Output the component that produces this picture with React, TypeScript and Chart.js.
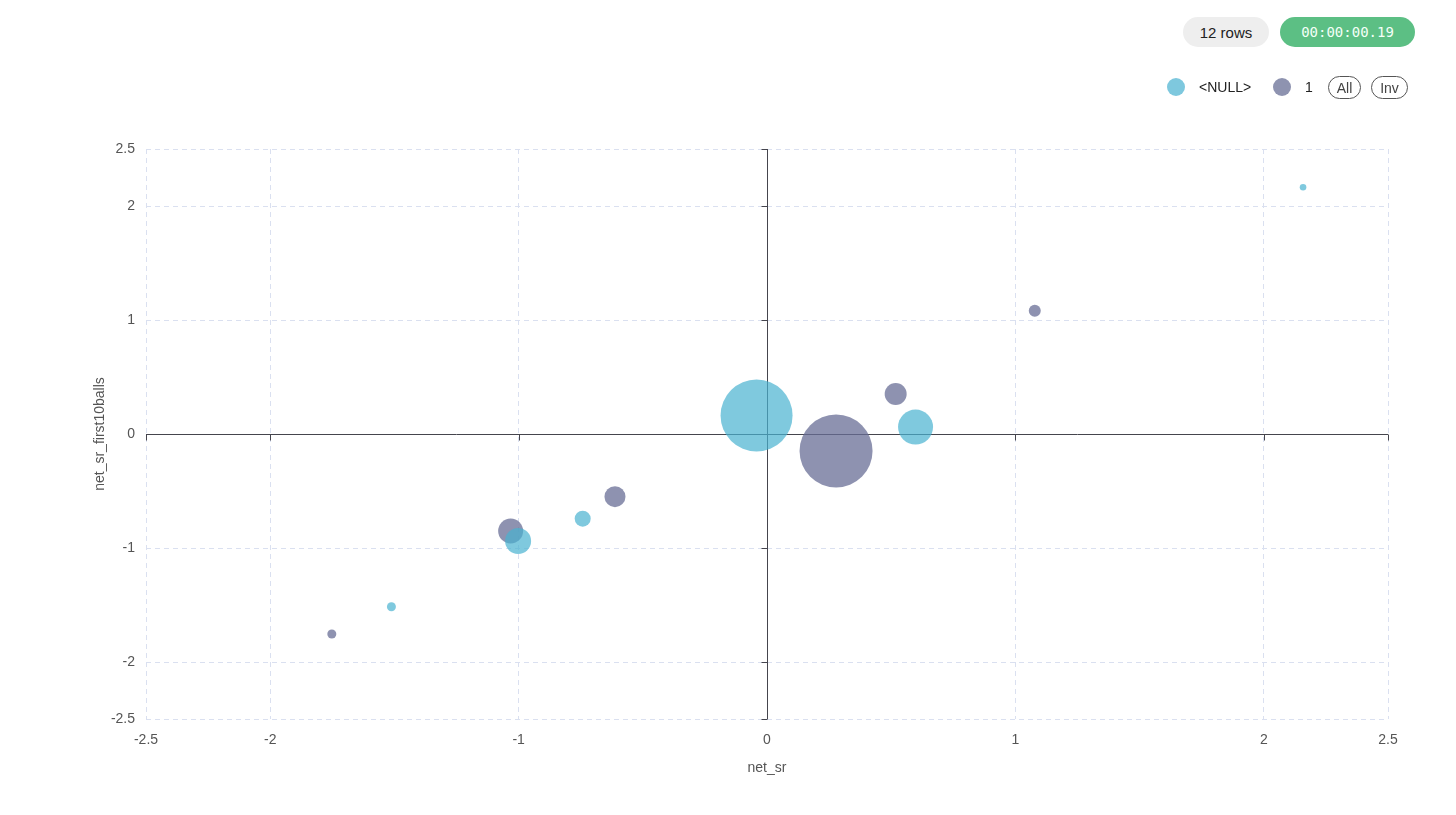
import React, { useEffect, useRef } from "react";
import { Chart, registerables } from "chart.js";

Chart.register(...registerables);

// ---- data ----
const seriesNames = ["<NULL>", "1"];
const nullX = [-0.042, 0.598, -1.002, -0.742, -1.512, 2.158];
const nullY = [0.162, 0.061, -0.939, -0.743, -1.515, 2.164];
const nullR = [36, 17.5, 13, 8, 4.5, 3.3];
const oneX = [0.278, 0.518, -1.032, -0.612, -1.752, 1.078];
const oneY = [-0.149, 0.351, -0.851, -0.55, -1.754, 1.082];
const oneR = [36.5, 11, 12.5, 10.5, 4.5, 6];
const xTicks = [-2.5, -2, -1, 0, 1, 2, 2.5];
const yTicks = [-2.5, -2, -1, 0, 1, 2, 2.5];
const xTitle = "net_sr";
const yTitle = "net_sr_first10balls";
const rowCount = "12 rows";
const elapsed = "00:00:00.19";

const CYAN = "rgba(72,178,208,0.7)";
const PURPLE = "rgba(104,110,150,0.75)";
const GRID = "rgba(218,224,240,1)";
const FONT = "'Liberation Sans', Arial, sans-serif";

const zeroAxes = {
  id: "zeroAxes",
  beforeDatasetsDraw(chart: any) {
    const { ctx, chartArea, scales } = chart;
    const xs = scales.x;
    const ys = scales.y;
    const x0 = Math.round(xs.getPixelForValue(0)) + 0.5;
    const y0 = Math.round(ys.getPixelForValue(0)) + 0.5;
    ctx.save();
    ctx.strokeStyle = "#45454d";
    ctx.lineWidth = 1;
    ctx.beginPath();
    ctx.moveTo(chartArea.left, y0);
    ctx.lineTo(chartArea.right, y0);
    ctx.moveTo(x0, chartArea.top);
    ctx.lineTo(x0, chartArea.bottom);
    xTicks.forEach((v) => {
      if (v === 0) return;
      const px = Math.round(xs.getPixelForValue(v)) + 0.5;
      ctx.moveTo(px, y0);
      ctx.lineTo(px, y0 + 6);
    });
    yTicks.forEach((v) => {
      if (v === 0) return;
      const py = Math.round(ys.getPixelForValue(v)) + 0.5;
      ctx.moveTo(x0 - 6, py);
      ctx.lineTo(x0, py);
    });
    ctx.stroke();
    ctx.restore();
  },
};

function ChartView() {
  const ref = useRef<HTMLCanvasElement | null>(null);
  useEffect(() => {
    if (!ref.current) return;
    const mk = (xs: number[], ys: number[], rs: number[]) =>
      xs.map((x, i) => ({ x, y: ys[i], r: rs[i] }));
    const chart = new Chart(ref.current, {
      type: "bubble",
      data: {
        datasets: [
          {
            label: seriesNames[0],
            data: mk(nullX, nullY, nullR),
            backgroundColor: CYAN,
            borderWidth: 0,
          },
          {
            label: seriesNames[1],
            data: mk(oneX, oneY, oneR),
            backgroundColor: PURPLE,
            borderWidth: 0,
          },
        ],
      },
      options: {
        animation: false,
        responsive: false,
        maintainAspectRatio: false,
        layout: { padding: { left: 88, right: 68, top: 149, bottom: 34 } },
        plugins: { legend: { display: false }, tooltip: { enabled: false } },
        scales: {
          x: {
            type: "linear",
            min: -2.5,
            max: 2.5,
            afterBuildTicks: (s: any) => {
              s.ticks = xTicks.map((v) => ({ value: v }));
            },
            afterFit: (s: any) => {
              s.height = 62;
            },
            grid: {
              color: (c: any) => (c.tick && c.tick.value === 0 ? "rgba(0,0,0,0)" : GRID),
              drawTicks: false,
              lineWidth: 1,
            },
            border: { display: false, dash: [5, 4] },
            ticks: {
              padding: 13,
              color: "#555",
              font: { family: FONT, size: 14 },
              maxRotation: 0,
              autoSkip: false,
              callback: (v: any) => String(v),
            },
            title: {
              display: true,
              text: xTitle,
              color: "#555",
              font: { family: FONT, size: 14 },
            },
          },
          y: {
            type: "linear",
            min: -2.5,
            max: 2.5,
            afterBuildTicks: (s: any) => {
              s.ticks = yTicks.map((v) => ({ value: v }));
            },
            afterFit: (s: any) => {
              s.width = 58;
            },
            grid: {
              color: (c: any) => (c.tick && c.tick.value === 0 ? "rgba(0,0,0,0)" : GRID),
              drawTicks: false,
              lineWidth: 1,
            },
            border: { display: false, dash: [5, 4] },
            ticks: {
              padding: 11,
              color: "#555",
              font: { family: FONT, size: 14 },
              autoSkip: false,
              callback: (v: any) => String(v),
            },
            title: {
              display: true,
              text: yTitle,
              color: "#555",
              font: { family: FONT, size: 14 },
            },
          },
        },
      },
      plugins: [zeroAxes],
    } as any);
    return () => chart.destroy();
  }, []);
  return (
    <canvas
      ref={ref}
      width={1456}
      height={815}
      style={{ position: "absolute", left: 0, top: 0, width: 1456, height: 815 }}
    />
  );
}

const pill: React.CSSProperties = {
  position: "absolute",
  boxSizing: "border-box",
  display: "flex",
  alignItems: "center",
  justifyContent: "center",
  fontFamily: FONT,
};

export default function App() {
  useEffect(() => {
    document.body.style.margin = "0";
  }, []);
  return (
    <div
      style={{
        position: "fixed",
        left: 0,
        top: 0,
        width: 1456,
        height: 815,
        background: "#fff",
        overflow: "hidden",
      }}
    >
      <ChartView />
      <div
        style={{
          ...pill,
          left: 1183,
          top: 17,
          width: 86,
          height: 30,
          borderRadius: 15,
          background: "#eeeeee",
          color: "#222",
          fontSize: 15,
        }}
      >
        {rowCount}
      </div>
      <div
        style={{
          ...pill,
          left: 1280,
          top: 17,
          width: 135,
          height: 30,
          borderRadius: 15,
          background: "#5cbf84",
          color: "#f4fff8",
          fontSize: 14,
          fontFamily: "'DejaVu Sans Mono', 'Liberation Mono', monospace",
        }}
      >
        {elapsed}
      </div>
      <div
        style={{
          position: "absolute",
          left: 1167,
          top: 78,
          width: 18,
          height: 18,
          borderRadius: 9,
          background: "rgb(126,200,222)",
        }}
      />
      <div
        style={{
          position: "absolute",
          left: 1199,
          top: 78,
          height: 18,
          lineHeight: "18px",
          fontFamily: FONT,
          fontSize: 14,
          color: "#222",
        }}
      >
        {seriesNames[0]}
      </div>
      <div
        style={{
          position: "absolute",
          left: 1273,
          top: 78,
          width: 18,
          height: 18,
          borderRadius: 9,
          background: "rgb(142,147,176)",
        }}
      />
      <div
        style={{
          position: "absolute",
          left: 1305,
          top: 78,
          height: 18,
          lineHeight: "18px",
          fontFamily: FONT,
          fontSize: 14,
          color: "#222",
        }}
      >
        {seriesNames[1]}
      </div>
      <div
        style={{
          ...pill,
          left: 1328,
          top: 76,
          width: 33,
          height: 23,
          borderRadius: 12,
          border: "1px solid #555",
          color: "#444",
          fontSize: 14,
        }}
      >
        All
      </div>
      <div
        style={{
          ...pill,
          left: 1371,
          top: 76,
          width: 37,
          height: 23,
          borderRadius: 12,
          border: "1px solid #555",
          color: "#444",
          fontSize: 14,
        }}
      >
        Inv
      </div>
    </div>
  );
}
